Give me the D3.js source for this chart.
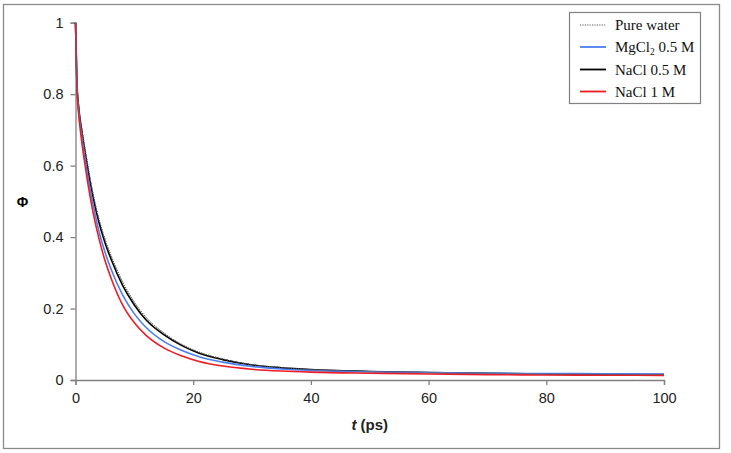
<!DOCTYPE html>
<html>
<head>
<meta charset="utf-8">
<script src="https://cdn.jsdelivr.net/npm/d3@7"></script>
<style>
  html, body { margin: 0; padding: 0; background: #fff; }
  svg { display: block; }
</style>
</head>
<body>
<svg id="chart" width="731" height="453"></svg>
<script>
// ---- data ----
const times = [0, 0.25, 0.5, 1, 1.5, 2, 3, 4, 5, 6, 8, 10, 12, 15, 18, 21, 25, 30, 35, 40, 50, 60, 70, 80, 90, 100];
const pureWater = [1, 0.835, 0.775, 0.71, 0.66, 0.61, 0.52, 0.45, 0.395, 0.35, 0.275, 0.218, 0.175, 0.132, 0.1, 0.078, 0.059, 0.043, 0.035, 0.029, 0.024, 0.021, 0.019, 0.017, 0.016, 0.015];
const mgcl2 = [1, 0.82, 0.76, 0.69, 0.635, 0.58, 0.49, 0.415, 0.358, 0.312, 0.238, 0.185, 0.147, 0.108, 0.083, 0.065, 0.05, 0.038, 0.031, 0.027, 0.023, 0.021, 0.019, 0.018, 0.0175, 0.017];
const nacl05 = [1, 0.83, 0.77, 0.705, 0.65, 0.6, 0.51, 0.44, 0.385, 0.34, 0.265, 0.21, 0.168, 0.127, 0.097, 0.075, 0.057, 0.042, 0.034, 0.029, 0.024, 0.021, 0.019, 0.017, 0.016, 0.015];
const nacl1 = [1, 0.81, 0.75, 0.675, 0.615, 0.56, 0.468, 0.395, 0.335, 0.287, 0.21, 0.16, 0.125, 0.09, 0.068, 0.052, 0.039, 0.03, 0.025, 0.022, 0.019, 0.017, 0.015, 0.014, 0.0135, 0.013];
const xTicks = [0, 20, 40, 60, 80, 100];
const yTicks = [0, 0.2, 0.4, 0.6, 0.8, 1];
const legendLabels = ["Pure water", "MgCl2 0.5 M", "NaCl 0.5 M", "NaCl 1 M"];

const series = [
  { name: legendLabels[0], values: pureWater, color: "#555555", width: 1, dash: "1.2,1.2" },
  { name: legendLabels[1], values: mgcl2, color: "#4a7ef0", width: 1.6, dash: null },
  { name: legendLabels[2], values: nacl05, color: "#000000", width: 1.6, dash: null },
  { name: legendLabels[3], values: nacl1, color: "#ee1c24", width: 1.6, dash: null }
];

const svg = d3.select("#chart");

// outer frame
svg.append("rect")
  .attr("x", 3.5).attr("y", 4.5).attr("width", 716).attr("height", 444)
  .attr("fill", "#fff").attr("stroke", "#8a8a8a").attr("stroke-width", 1.3);

const x = d3.scaleLinear().domain([0, 100]).range([75.5, 664]);
const y = d3.scaleLinear().domain([0, 1]).range([380, 22.7]);

// axes
const xAxis = svg.append("g")
  .attr("transform", `translate(0,${y(0)})`)
  .call(d3.axisBottom(x).tickValues(xTicks).tickSize(5).tickPadding(8).tickFormat(d3.format("d")));
const yAxis = svg.append("g")
  .attr("transform", `translate(${x(0)},0)`)
  .call(d3.axisLeft(y).tickValues(yTicks).tickSize(5).tickPadding(7).tickFormat(d => d === 0 ? "0" : d === 1 ? "1" : d3.format(".1f")(d)));

[xAxis, yAxis].forEach(g => {
  g.select(".domain").attr("stroke", "#808080").attr("stroke-width", 1.3);
  g.selectAll(".tick line").attr("stroke", "#808080").attr("stroke-width", 1.3);
  g.selectAll(".tick text")
    .attr("font-family", "Arial, 'Liberation Sans', sans-serif")
    .attr("font-size", 14.5).attr("fill", "#222");
});

// lines
const line = d3.line()
  .x((d, i) => x(times[i]))
  .y(d => y(d))
  .curve(d3.curveMonotoneX);

const drawOrder = [0, 2, 1, 3];
drawOrder.forEach(k => {
  const s = series[k];
  svg.append("path")
    .datum(s.values)
    .attr("d", line)
    .attr("fill", "none")
    .attr("stroke", s.color)
    .attr("stroke-width", s.width)
    .attr("stroke-dasharray", s.dash);
});
svg.append("path")
  .datum(series[0].values)
  .attr("d", line)
  .attr("fill", "none")
  .attr("stroke", "#666")
  .attr("stroke-width", 1)
  .attr("stroke-dasharray", "1.2,1.2");

// axis titles
svg.append("text")
  .attr("x", 22.5).attr("y", 207)
  .attr("text-anchor", "middle")
  .attr("font-family", "Arial, 'Liberation Sans', sans-serif")
  .attr("font-size", 14).attr("font-weight", "bold")
  .text("Φ");

const xt = svg.append("text")
  .attr("x", x(50)).attr("y", 430)
  .attr("text-anchor", "middle")
  .attr("font-family", "Arial, 'Liberation Sans', sans-serif")
  .attr("font-size", 15).attr("font-weight", "bold").attr("fill", "#222");
xt.append("tspan").attr("font-style", "italic").text("t");
xt.append("tspan").text(" (ps)");

// legend
const lg = svg.append("g");
lg.append("rect")
  .attr("x", 569.5).attr("y", 12.5).attr("width", 131).attr("height", 91)
  .attr("fill", "#fff").attr("stroke", "#808080").attr("stroke-width", 1.2);
const rowY = [25, 47, 69.5, 91.5];
series.forEach((s, i) => {
  lg.append("line")
    .attr("x1", 580).attr("x2", 606)
    .attr("y1", rowY[i]).attr("y2", rowY[i])
    .attr("stroke", s.color)
    .attr("stroke-width", i === 0 ? 1 : 1.8)
    .attr("stroke-dasharray", s.dash);
  const t = lg.append("text")
    .attr("x", 615).attr("y", rowY[i] + 5)
    .attr("font-family", "'Liberation Serif', 'Times New Roman', serif")
    .attr("font-size", 15).attr("fill", "#111");
  if (s.name.startsWith("MgCl2")) {
    t.append("tspan").text("MgCl");
    t.append("tspan").attr("font-size", 9.5).attr("dy", 3).text("2");
    t.append("tspan").attr("dy", -3).text(" 0.5 M");
  } else {
    t.text(s.name);
  }
});
</script>
</body>
</html>
